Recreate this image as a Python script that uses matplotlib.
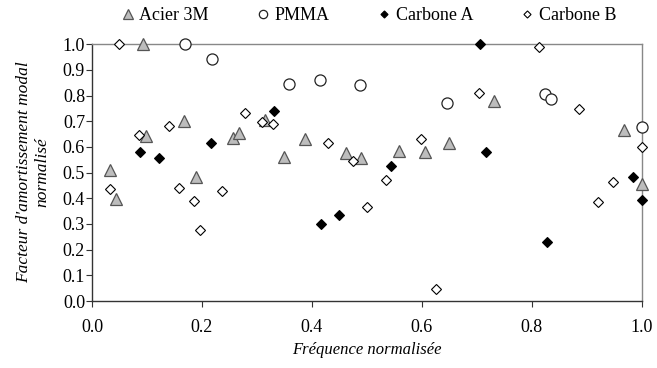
import matplotlib.pyplot as plt

plt.rcParams['font.family'] = ['Liberation Serif', 'DejaVu Serif']

# Acier 3M
acier_x = [0.032, 0.044, 0.093, 0.099, 0.168, 0.190, 0.257, 0.268, 0.314, 0.349,
           0.388, 0.462, 0.489, 0.559, 0.605, 0.649, 0.731, 0.967, 1.000]
acier_y = [0.510, 0.396, 1.000, 0.642, 0.700, 0.483, 0.633, 0.656, 0.705, 0.561,
           0.630, 0.575, 0.556, 0.585, 0.582, 0.614, 0.779, 0.665, 0.455]

# PMMA
pmma_x = [0.169, 0.218, 0.359, 0.414, 0.487, 0.645, 0.824, 0.835, 1.000]
pmma_y = [1.000, 0.942, 0.844, 0.862, 0.840, 0.769, 0.805, 0.786, 0.676]

# Carbone A
carbA_x = [0.088, 0.122, 0.216, 0.331, 0.416, 0.449, 0.543, 0.705, 0.717, 0.828,
           0.984, 1.000]
carbA_y = [0.579, 0.555, 0.617, 0.741, 0.298, 0.335, 0.527, 1.000, 0.581, 0.228,
           0.481, 0.393]

# Carbone B
carbB_x = [0.050, 0.032, 0.085, 0.140, 0.158, 0.185, 0.196, 0.237, 0.279, 0.310,
           0.329, 0.430, 0.475, 0.500, 0.535, 0.598, 0.626, 0.704, 0.812, 0.886,
           0.921, 0.948, 1.000]
carbB_y = [1.000, 0.438, 0.645, 0.682, 0.441, 0.390, 0.276, 0.429, 0.731, 0.698,
           0.688, 0.614, 0.545, 0.366, 0.471, 0.629, 0.045, 0.810, 0.990, 0.747,
           0.386, 0.462, 0.598]

fig = plt.figure(figsize=(6.57, 3.68), dpi=100)
ax = fig.add_axes([0.140, 0.182, 0.837, 0.698])

ax.plot(acier_x, acier_y, '^', ms=9, mfc='#bdbdbd', mec='#555555', mew=0.9,
        clip_on=False, label='Acier 3M', zorder=3)
ax.plot(pmma_x, pmma_y, 'o', ms=8, mfc='white', mec='#222222', mew=0.9,
        clip_on=False, label='PMMA', zorder=3)
ax.plot(carbA_x, carbA_y, 'D', ms=4.8, mfc='black', mec='black', mew=0.8,
        clip_on=False, label='Carbone A', zorder=4)
ax.plot(carbB_x, carbB_y, 'D', ms=4.8, mfc='white', mec='black', mew=0.8,
        clip_on=False, label='Carbone B', zorder=4)

ax.set_xlim(0, 1)
ax.set_ylim(0, 1)
ax.set_xticks([0.0, 0.2, 0.4, 0.6, 0.8, 1.0])
ax.set_yticks([i / 10 for i in range(11)])
ax.xaxis.set_major_formatter(plt.FormatStrFormatter('%.1f'))
ax.yaxis.set_major_formatter(plt.FormatStrFormatter('%.1f'))
ax.tick_params(direction='out', length=4, width=0.8, labelsize=13, colors='#333333',
               labelcolor='black')
ax.tick_params(axis='x', pad=9)
ax.tick_params(axis='y', pad=1)

for s in ['left', 'bottom']:
    ax.spines[s].set_color('#333333')
for s in ['top', 'right']:
    ax.spines[s].set_color('#888888')
for s in ax.spines.values():
    s.set_linewidth(1.0)

ax.set_xlabel('Fréquence normalisée', fontsize=12, style='italic', labelpad=4)
ax.set_ylabel("Facteur d'amortissement modal\nnormalisé", fontsize=12.5,
              style='italic', labelpad=9)

fig.legend(loc='upper center', bbox_to_anchor=(0.558, 1.025), ncol=4, frameon=False,
           fontsize=13, handletextpad=0.05, columnspacing=2.4, markerscale=0.75,
           handlelength=1.2)

fig.savefig('out.png', dpi=100)
